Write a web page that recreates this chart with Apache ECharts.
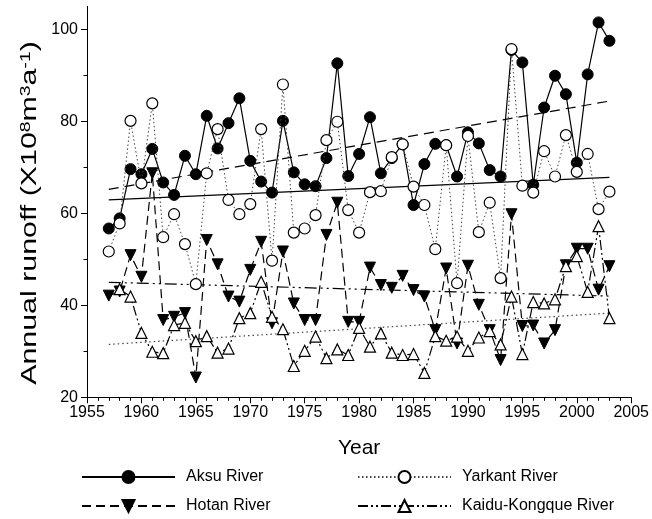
<!DOCTYPE html>
<html>
<head>
<meta charset="utf-8">
<script src="https://cdn.jsdelivr.net/npm/echarts@6/dist/echarts.min.js"></script>
<style>
  html, body { margin: 0; padding: 0; background: #fff; }
  #chart { width: 652px; height: 519px; }
</style>
</head>
<body>
<div id="chart"></div>
<script>
const years = [1957, 1958, 1959, 1960, 1961, 1962, 1963, 1964, 1965, 1966,
               1967, 1968, 1969, 1970, 1971, 1972, 1973, 1974, 1975, 1976,
               1977, 1978, 1979, 1980, 1981, 1982, 1983, 1984, 1985, 1986,
               1987, 1988, 1989, 1990, 1991, 1992, 1993, 1994, 1995, 1996,
               1997, 1998, 1999, 2000, 2001, 2002, 2003];

const aksu = [56.7, 58.9, 69.6, 68.5, 74.0, 66.7, 64.0, 72.5, 68.5, 81.2,
              74.1, 79.6, 85.0, 71.4, 66.9, 64.5, 80.1, 68.9, 66.3, 65.9,
              72.0, 92.6, 68.1, 72.9, 80.9, 68.7, 72.0, 75.0, 61.8, 70.7,
              75.1, 74.8, 68.0, 77.6, 75.2, 69.4, 68.0, 95.5, 92.8, 66.2,
              83.0, 89.9, 85.9, 71.0, 90.2, 101.5, 97.5];

const yarkant = [51.7, 57.8, 80.1, 66.5, 83.9, 54.8, 59.8, 53.3, 44.6, 68.7,
                 78.3, 62.9, 59.8, 62.0, 78.3, 49.7, 88.0, 55.8, 56.7, 59.6,
                 75.9, 79.9, 60.7, 55.8, 64.6, 64.8, 72.2, 75.0, 65.8, 61.8,
                 52.2, 74.8, 44.8, 76.8, 55.9, 62.3, 45.9, 95.7, 66.0, 64.5,
                 73.5, 68.0, 77.0, 69.0, 72.9, 60.9, 64.7];

const hotan = [42.1, 43.0, 50.9, 46.2, 68.7, 36.8, 37.5, 38.3, 24.3, 54.2,
               48.9, 41.9, 40.8, 47.7, 53.8, 36.1, 51.7, 40.4, 36.8, 36.8,
               55.3, 62.3, 36.4, 36.4, 48.2, 44.4, 43.8, 46.4, 43.3, 41.9,
               34.6, 48.0, 31.7, 48.6, 40.1, 34.6, 28.1, 59.8, 35.5, 35.6,
               31.7, 34.6, 48.7, 52.3, 52.3, 43.4, 48.5];

const kaidu = [null, 43.5, 41.9, 34.0, 29.9, 29.6, 35.7, 36.2, 32.2, 33.3,
               29.7, 30.6, 37.2, 38.3, 45.1, 37.5, 34.8, 26.8, 30.1, 33.2,
               28.5, 30.4, 29.2, 35.1, 31.0, 33.9, 29.7, 29.2, 29.4, 25.3,
               33.3, 32.3, 33.2, 30.1, 33.0, 34.4, 31.5, 41.9, 29.4, 40.7,
               40.4, 41.3, 48.5, 50.7, 42.9, 57.2, 37.2];

// linear trend lines (end points)
const trendYears = [1957, 2003];
const trendSolid = [62.9, 67.8];
const trendDashed = [65.2, 84.4];
const trendDashDot = [45.0, 42.0];
const trendDotted = [31.5, 38.3];

const xTicks = [1955, 1960, 1965, 1970, 1975, 1980, 1985, 1990, 1995, 2000, 2005];
const yTicks = [20, 40, 60, 80, 100];
const yMinorTicks = [30, 50, 70, 90];

const FONT = '"Liberation Sans", Arial, sans-serif';

function pairs(xs, ys) { return xs.map((x, i) => [x, ys[i]]); }

function trendSeries(name, vals, type, color) {
  return {
    name: name, type: 'line', data: pairs(trendYears, vals),
    symbol: 'none', silent: true, z: 1,
    lineStyle: { color: color || '#000', width: 1.2, type: type }
  };
}

const chart = echarts.init(document.getElementById('chart'), null, { renderer: 'canvas' });

const legendCommon = {
  orient: 'vertical', top: 469, padding: 0,
  itemWidth: 93, itemHeight: 15, itemGap: 13,
  textStyle: { color: '#000', fontSize: 16, fontFamily: FONT, padding: [0, 0, 0, 6] },
  selectedMode: false
};

const option = {
  animation: false,
  backgroundColor: '#fff',
  grid: { left: 87, right: 20, top: 6.3, bottom: 121.7, containLabel: false },
  xAxis: {
    type: 'value', min: 1955, max: 2005, interval: 5,
    axisLine: { show: true, onZero: false, lineStyle: { color: '#000', width: 1 } },
    axisTick: { show: true, length: 6, lineStyle: { color: '#000', width: 1 } },
    minorTick: { show: true, splitNumber: 5, length: 3.5, lineStyle: { color: '#000', width: 1 } },
    splitLine: { show: false },
    axisLabel: { color: '#000', fontSize: 16, fontFamily: FONT, margin: 7,
                 customValues: xTicks, formatter: v => String(v) },
    name: 'Year', nameLocation: 'middle', nameGap: 40,
    nameTextStyle: { color: '#000', fontSize: 21, fontFamily: FONT }
  },
  yAxis: [{
    type: 'value', min: 20, max: 105,
    axisLine: { show: true, onZero: false, lineStyle: { color: '#000', width: 1 } },
    axisTick: { show: true, length: 6, customValues: yTicks, lineStyle: { color: '#000', width: 1 } },
    splitLine: { show: false },
    axisLabel: { color: '#000', fontSize: 16, fontFamily: FONT, margin: 9, customValues: yTicks }
  }, {
    type: 'value', min: 20, max: 105, position: 'left',
    axisLine: { show: false },
    axisTick: { show: true, length: 3.5, customValues: yMinorTicks, lineStyle: { color: '#000', width: 1 } },
    splitLine: { show: false },
    axisLabel: { show: false }
  }],
  legend: [
    Object.assign({}, legendCommon, { data: ['Aksu River', 'Hotan River'], left: 81 }),
    Object.assign({}, legendCommon, { data: ['Yarkant River', 'Kaidu-Kongque River'], left: 357 })
  ],
  graphic: [{
    type: 'text',
    x: 30, y: 213,
    rotation: Math.PI / 2,
    scaleX: 1.38,
    style: {
      text: 'Annual runoff (X10{sup|8}m{sup|3}a{sup|-1})',
      fill: '#000',
      font: '22px "Liberation Sans", Arial, sans-serif',
      align: 'center', verticalAlign: 'middle',
      rich: {
        sup: { fontSize: 14, fontFamily: FONT, fill: '#000', verticalAlign: 'top', padding: [0, 0, 8, 0] }
      }
    }
  }],
  series: [
    trendSeries('trend solid', trendSolid, 'solid'),
    trendSeries('trend dashed', trendDashed, [10, 6]),
    trendSeries('trend dash-dot', trendDashDot, [12, 4, 2, 4, 2, 4]),
    trendSeries('trend dotted', trendDotted, [1.5, 3], '#444'),
    {
      name: 'Aksu River', type: 'line', data: pairs(years, aksu), z: 3,
      symbol: 'circle', symbolSize: 11,
      lineStyle: { color: '#000', width: 1.2, type: 'solid' },
      itemStyle: { color: '#000', borderColor: '#000', borderWidth: 1 }
    },
    {
      name: 'Hotan River', type: 'line', data: pairs(years, hotan), z: 3,
      symbol: 'triangle', symbolRotate: 180, symbolSize: 11,
      lineStyle: { color: '#000', width: 1.2, type: [9, 5] },
      itemStyle: { color: '#000', borderColor: '#000', borderWidth: 1 }
    },
    {
      name: 'Yarkant River', type: 'line', data: pairs(years, yarkant), z: 4,
      symbol: 'circle', symbolSize: 11,
      lineStyle: { color: '#444', width: 1, type: [1.5, 2.5] },
      itemStyle: { color: '#fff', borderColor: '#000', borderWidth: 1.2 }
    },
    {
      name: 'Kaidu-Kongque River', type: 'line', data: pairs(years, kaidu), z: 4,
      symbol: 'triangle', symbolSize: 11,
      lineStyle: { color: '#000', width: 1.2, type: [10, 3, 2, 3, 2, 3] },
      itemStyle: { color: '#fff', borderColor: '#000', borderWidth: 1.2 }
    }
  ]
};

chart.setOption(option);
</script>
</body>
</html>
